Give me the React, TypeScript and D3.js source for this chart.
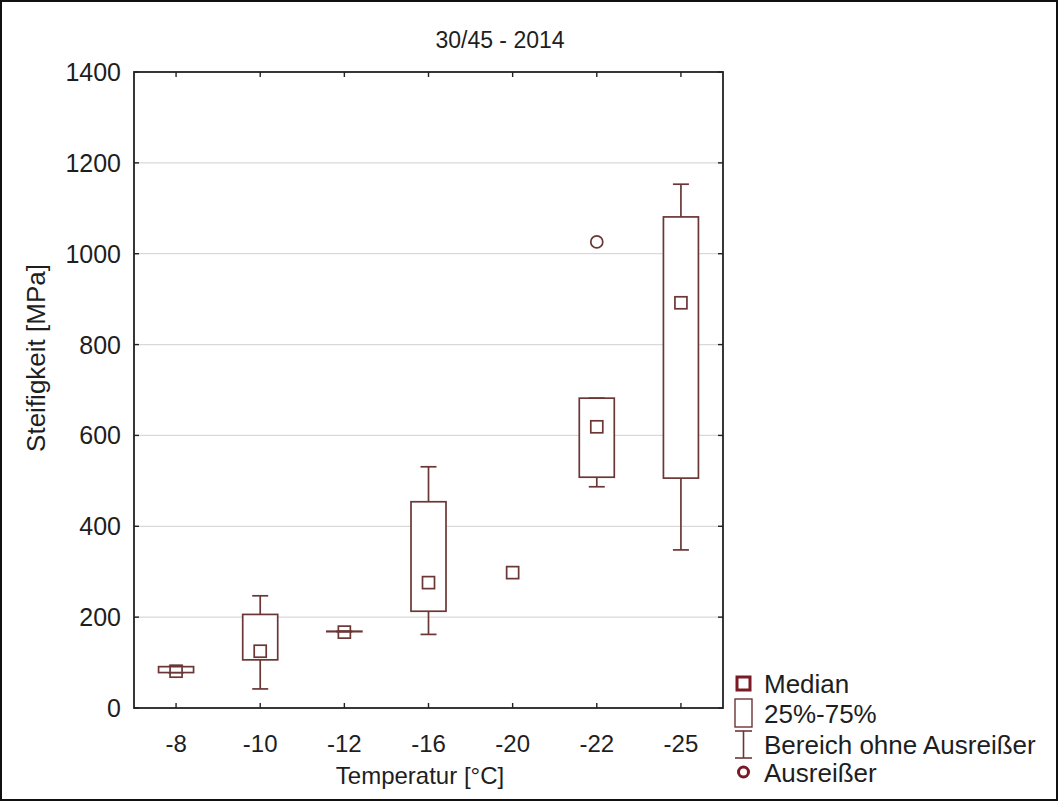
import React from "react";
import * as d3 from "d3";

// Temperature groups and box-plot statistics (stiffness in MPa)
const categories = ["-8", "-10", "-12", "-16", "-20", "-22", "-25"];
const medians = [81, 125, 167, 276, 298, 619, 892];
const q1 = [78, 106, 168, 213, null, 508, 506];
const q3 = [91, 206, 169, 454, null, 682, 1081];
const whiskerLow = [78, 42, 168, 162, null, 487, 348];
const whiskerHigh = [91, 247, 169, 531, null, 682, 1153];
const outlierCats = ["-22"];
const outlierValues = [1026];
const yTicks = [0, 200, 400, 600, 800, 1000, 1200, 1400];

const legendItems = ["Median", "25%-75%", "Bereich ohne Ausreißer", "Ausreißer"];

const W = 1058;
const H = 801;
const plot = { left: 134, right: 723, top: 72, bottom: 708 };
const boxColor = "#6b3636";
const legendColor = "#7a1a24";
const textColor = "#1e1e1e";
const font = "'Liberation Sans', Arial, sans-serif";

export default function App() {
  const x = d3
    .scalePoint<string>()
    .domain(categories)
    .range([plot.left, plot.right])
    .padding(0.5);
  const y = d3.scaleLinear().domain([0, 1400]).range([plot.bottom, plot.top]);

  const boxW = 35;
  const capW = 16;
  const medS = 12;

  return (
    <svg
      width={W}
      height={H}
      style={{ position: "absolute", left: 0, top: 0, background: "#fff" }}
      fontFamily={font}
    >
      <rect x={1} y={1} width={W - 2} height={H - 2} fill="#fff" stroke="#111" strokeWidth={2} />

      {/* title */}
      <text x={500} y={48} fontSize={23} textAnchor="middle" fill={textColor}>
        30/45 - 2014
      </text>

      {/* horizontal grid */}
      {yTicks
        .filter((t) => t > 0 && t < 1400)
        .map((t) => (
          <line key={"g" + t} x1={plot.left} x2={plot.right} y1={y(t)} y2={y(t)} stroke="#d9d9d9" strokeWidth={1.2} />
        ))}

      {/* boxes, whiskers, medians */}
      {categories.map((c, i) => {
        const cx = x(c)!;
        const lo = q1[i];
        const hi = q3[i];
        const wl = whiskerLow[i];
        const wh = whiskerHigh[i];
        return (
          <g key={c} stroke={boxColor} strokeWidth={1.7} fill="none">
            {wl != null && lo != null && (
              <>
                <line x1={cx} x2={cx} y1={y(lo)} y2={y(wl)} />
                <line x1={cx - capW / 2} x2={cx + capW / 2} y1={y(wl)} y2={y(wl)} />
              </>
            )}
            {wh != null && hi != null && (
              <>
                <line x1={cx} x2={cx} y1={y(hi)} y2={y(wh)} />
                <line x1={cx - capW / 2} x2={cx + capW / 2} y1={y(wh)} y2={y(wh)} />
              </>
            )}
            {lo != null && hi != null && (
              <rect x={cx - boxW / 2} y={y(hi)} width={boxW} height={Math.max(0, y(lo) - y(hi))} fill="#fff" />
            )}
            <rect x={cx - medS / 2} y={y(medians[i]) - medS / 2} width={medS} height={medS} fill="none" />
          </g>
        );
      })}

      {/* outliers */}
      {outlierCats.map((c, i) => (
        <circle key={"o" + i} cx={x(c)!} cy={y(outlierValues[i])} r={6} fill="none" stroke={boxColor} strokeWidth={1.7} />
      ))}

      {/* frame */}
      <rect
        x={plot.left}
        y={plot.top}
        width={plot.right - plot.left}
        height={plot.bottom - plot.top}
        fill="none"
        stroke="#222"
        strokeWidth={1.8}
      />

      {/* inward ticks */}
      {categories.map((c) => (
        <g key={"xt" + c} stroke="#222" strokeWidth={1.4}>
          <line x1={x(c)!} x2={x(c)!} y1={plot.bottom} y2={plot.bottom - 5} />
          <line x1={x(c)!} x2={x(c)!} y1={plot.top} y2={plot.top + 5} />
        </g>
      ))}
      {yTicks.map((t) => (
        <g key={"yt" + t} stroke="#222" strokeWidth={1.4}>
          <line x1={plot.left} x2={plot.left + 5} y1={y(t)} y2={y(t)} />
          <line x1={plot.right} x2={plot.right - 5} y1={y(t)} y2={y(t)} />
        </g>
      ))}

      {/* tick labels */}
      {yTicks.map((t) => (
        <text key={"yl" + t} x={121} y={y(t)} dy="0.36em" fontSize={25} textAnchor="end" fill={textColor}>
          {t}
        </text>
      ))}
      {categories.map((c) => (
        <text key={"xl" + c} x={x(c)!} y={752} fontSize={24} textAnchor="middle" fill={textColor}>
          {c}
        </text>
      ))}

      {/* axis titles */}
      <text x={420} y={784} fontSize={24} textAnchor="middle" fill={textColor}>
        Temperatur [°C]
      </text>
      <text
        transform={`translate(45, 358) rotate(-90)`}
        fontSize={26}
        textAnchor="middle"
        fill={textColor}
      >
        Steifigkeit [MPa]
      </text>

      {/* legend */}
      <g fontSize={26} fill={textColor}>
        <rect x={737} y={677} width={13} height={13} fill="none" stroke={legendColor} strokeWidth={3} />
        <text x={764} y={693}>{legendItems[0]}</text>

        <rect x={735} y={699} width={17} height={28} fill="none" stroke={boxColor} strokeWidth={1.4} />
        <text x={764} y={723}>{legendItems[1]}</text>

        <g stroke={boxColor} strokeWidth={1.6}>
          <line x1={735} x2={752} y1={731} y2={731} />
          <line x1={743.5} x2={743.5} y1={731} y2={758} />
          <line x1={735} x2={752} y1={758} y2={758} />
        </g>
        <text x={764} y={754}>{legendItems[2]}</text>

        <circle cx={743.5} cy={772} r={5} fill="none" stroke={legendColor} strokeWidth={3} />
        <text x={764} y={782}>{legendItems[3]}</text>
      </g>
    </svg>
  );
}
